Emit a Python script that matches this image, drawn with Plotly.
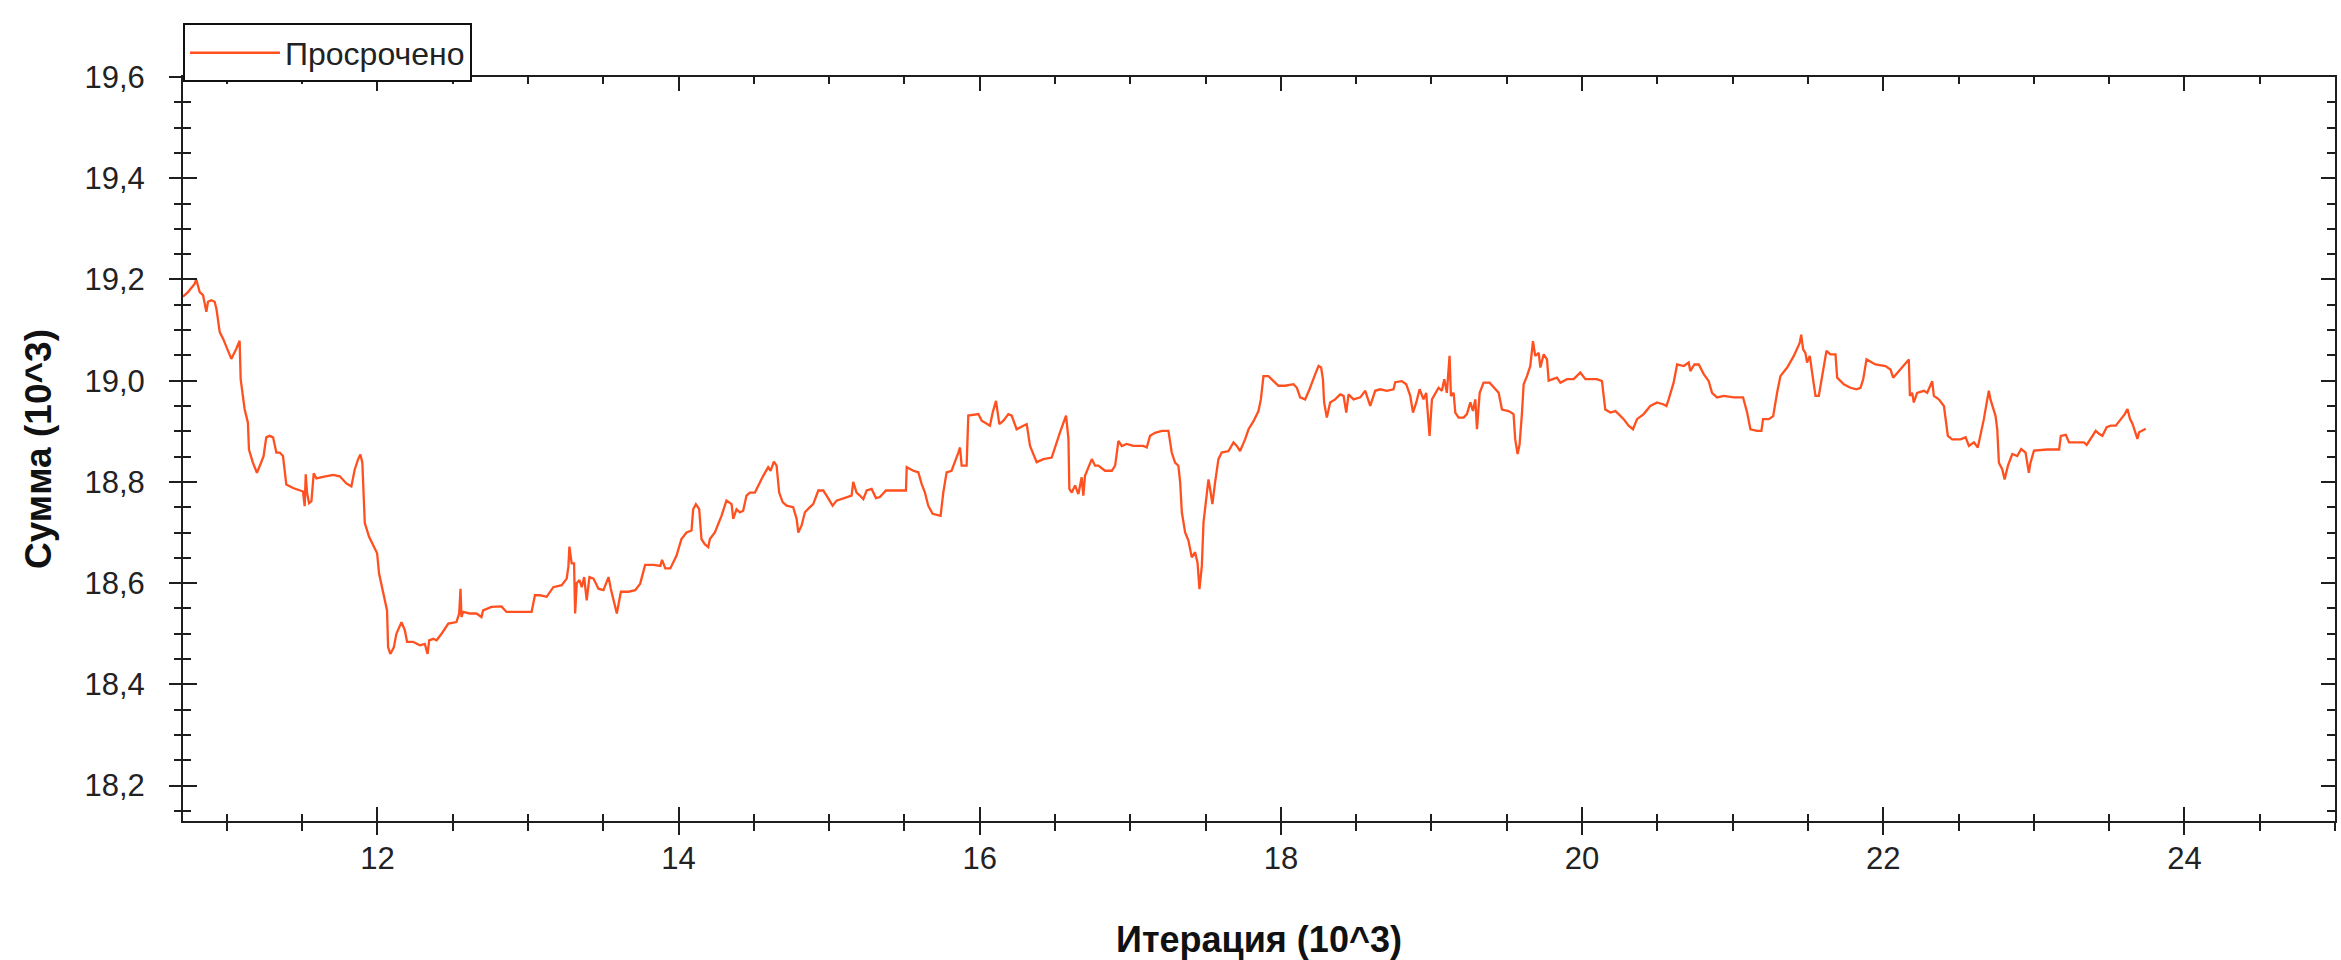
import plotly.graph_objects as go

# Iteration (10^3) and amount (10^3)
iter_k = [
    10.709, 10.742, 10.786, 10.797, 10.820, 10.842, 10.864, 10.875, 10.897, 10.919,
    10.931, 10.953, 10.975, 11.030, 11.063, 11.085, 11.092, 11.118, 11.140, 11.147,
    11.173, 11.200, 11.218, 11.244, 11.262, 11.284, 11.307, 11.329, 11.351, 11.373,
    11.395, 11.440, 11.506, 11.517, 11.524, 11.533, 11.546, 11.562, 11.577, 11.595,
    11.639, 11.706, 11.750, 11.794, 11.827, 11.849, 11.871, 11.887, 11.900, 11.916,
    11.944, 11.971, 11.998, 12.011, 12.038, 12.064, 12.071, 12.086, 12.109, 12.126,
    12.160, 12.182, 12.197, 12.237, 12.282, 12.315, 12.333, 12.344, 12.371, 12.393,
    12.426, 12.471, 12.525, 12.543, 12.552, 12.558, 12.569, 12.613, 12.658, 12.691,
    12.702, 12.757, 12.824, 12.857, 12.946, 13.024, 13.046, 13.080, 13.124, 13.168,
    13.224, 13.257, 13.268, 13.275, 13.290, 13.306, 13.313, 13.324, 13.342, 13.357,
    13.373, 13.390, 13.408, 13.435, 13.468, 13.501, 13.535, 13.550, 13.590, 13.617,
    13.668, 13.712, 13.745, 13.778, 13.834, 13.879, 13.890, 13.912, 13.945,
    13.986, 14.019, 14.053, 14.086, 14.097, 14.115, 14.137, 14.152, 14.174, 14.197,
    14.208, 14.241, 14.285, 14.318, 14.352, 14.363, 14.385, 14.407, 14.429, 14.451,
    14.473, 14.507, 14.529, 14.562, 14.595, 14.611, 14.633, 14.651, 14.668, 14.691,
    14.717, 14.761, 14.784, 14.795, 14.817, 14.839, 14.872, 14.894, 14.928, 14.961,
    14.983, 15.023, 15.049, 15.083, 15.116, 15.149, 15.160, 15.182, 15.204, 15.227,
    15.249, 15.282, 15.311, 15.337, 15.377, 15.510, 15.515, 15.559, 15.592, 15.614,
    15.636, 15.658, 15.687, 15.740, 15.758, 15.780, 15.813, 15.836, 15.858, 15.869,
    15.880, 15.913, 15.924, 15.991, 16.013, 16.068, 16.086, 16.108, 16.130, 16.157,
    16.190, 16.212, 16.245, 16.290, 16.312, 16.334, 16.378, 16.423, 16.478, 16.533,
    16.573, 16.589, 16.595, 16.611, 16.633, 16.655, 16.677, 16.688, 16.699, 16.744,
    16.766, 16.788, 16.832, 16.877, 16.899, 16.921, 16.943, 16.976, 17.020, 17.087,
    17.109, 17.131, 17.164, 17.209, 17.253, 17.275, 17.297, 17.319, 17.331, 17.342,
    17.364, 17.386, 17.408, 17.430, 17.446, 17.459, 17.475, 17.486, 17.508, 17.519,
    17.530, 17.545, 17.563, 17.585, 17.607, 17.652, 17.685, 17.707, 17.729, 17.762,
    17.785, 17.818, 17.851, 17.867, 17.884, 17.917, 17.951, 17.984, 18.028, 18.084,
    18.106, 18.128, 18.161, 18.190, 18.228, 18.250, 18.267, 18.279, 18.287, 18.305,
    18.327, 18.360, 18.394, 18.416, 18.434, 18.449, 18.482, 18.527, 18.560, 18.593,
    18.626, 18.659, 18.704, 18.748, 18.759, 18.803, 18.832, 18.859, 18.877, 18.899,
    18.921, 18.947, 18.965, 18.987, 19.003, 19.025, 19.047, 19.069, 19.085, 19.102,
    19.120, 19.129, 19.147, 19.158, 19.180, 19.213, 19.235, 19.258, 19.275, 19.291,
    19.302, 19.320, 19.346, 19.386, 19.413, 19.446, 19.468, 19.512, 19.545, 19.556,
    19.572, 19.585, 19.601, 19.612, 19.634, 19.656, 19.674, 19.689, 19.712, 19.723,
    19.745, 19.767, 19.778, 19.833, 19.856, 19.900, 19.944, 19.988, 20.022, 20.099,
    20.132, 20.154, 20.188, 20.221, 20.243, 20.276, 20.309, 20.338, 20.365, 20.409,
    20.453, 20.498, 20.542, 20.560, 20.575, 20.608, 20.631, 20.675, 20.708, 20.719,
    20.746, 20.775, 20.808, 20.841, 20.863, 20.896, 20.941, 21.007, 21.069, 21.096,
    21.118, 21.162, 21.191, 21.202, 21.240, 21.269, 21.295, 21.317, 21.362, 21.406,
    21.446, 21.455, 21.468, 21.483, 21.494, 21.512, 21.534, 21.550, 21.572, 21.594,
    21.623, 21.649, 21.683, 21.694, 21.738, 21.782, 21.822, 21.849, 21.867, 21.889,
    21.948, 22.015, 22.048, 22.066, 22.103, 22.141, 22.170, 22.177, 22.192, 22.203,
    22.225, 22.270, 22.292, 22.325, 22.336, 22.369, 22.403, 22.429, 22.458, 22.513,
    22.547, 22.569, 22.602, 22.628, 22.668, 22.701, 22.712, 22.746, 22.757, 22.768,
    22.790, 22.806, 22.828, 22.857, 22.890, 22.916, 22.945, 22.967, 22.978,
    23.001, 23.090, 23.168, 23.179, 23.212, 23.234, 23.289, 23.333, 23.351, 23.378,
    23.411, 23.433, 23.455, 23.484, 23.511, 23.544, 23.577, 23.604, 23.622, 23.639,
    23.655, 23.671, 23.688, 23.699, 23.715, 23.743,
]

summa_k = [
    19.166, 19.175, 19.191, 19.200, 19.175, 19.169, 19.136, 19.156, 19.159, 19.156,
    19.142, 19.096, 19.083, 19.043, 19.063, 19.079, 19.003, 18.944, 18.917, 18.864,
    18.838, 18.818, 18.831, 18.851, 18.888, 18.891, 18.888, 18.858, 18.858, 18.851,
    18.795, 18.788, 18.781, 18.752, 18.815, 18.778, 18.758, 18.762, 18.817, 18.807,
    18.810, 18.814, 18.811, 18.797, 18.791, 18.824, 18.844, 18.854, 18.838, 18.719,
    18.692, 18.675, 18.659, 18.619, 18.579, 18.546, 18.473, 18.460, 18.473, 18.500,
    18.523, 18.507, 18.484, 18.484, 18.477, 18.480, 18.460, 18.487, 18.490, 18.487,
    18.500, 18.520, 18.523, 18.540, 18.589, 18.533, 18.543, 18.540, 18.540, 18.533,
    18.546, 18.553, 18.554, 18.543, 18.543, 18.543, 18.576, 18.576, 18.573, 18.592,
    18.596, 18.609, 18.632, 18.672, 18.639, 18.639, 18.540, 18.600, 18.606, 18.592,
    18.612, 18.566, 18.612, 18.609, 18.589, 18.586, 18.612, 18.589, 18.540, 18.583,
    18.583, 18.586, 18.599, 18.636, 18.636, 18.634, 18.646, 18.629, 18.629,
    18.654, 18.687, 18.700, 18.704, 18.746, 18.756, 18.746, 18.687, 18.677, 18.671,
    18.687, 18.700, 18.733, 18.763, 18.756, 18.727, 18.746, 18.740, 18.743, 18.773,
    18.779, 18.779, 18.793, 18.812, 18.829, 18.822, 18.840, 18.832, 18.779, 18.760,
    18.753, 18.750, 18.727, 18.700, 18.714, 18.740, 18.750, 18.756, 18.783, 18.783,
    18.773, 18.753, 18.763, 18.766, 18.770, 18.773, 18.800, 18.779, 18.773, 18.766,
    18.783, 18.786, 18.768, 18.770, 18.783, 18.783, 18.829, 18.822, 18.819, 18.796,
    18.779, 18.753, 18.737, 18.733, 18.779, 18.819, 18.822, 18.839, 18.858, 18.868,
    18.832, 18.832, 18.931, 18.934, 18.921, 18.911, 18.937, 18.960, 18.914, 18.921,
    18.934, 18.931, 18.904, 18.911, 18.914, 18.871, 18.839, 18.845, 18.848, 18.898,
    18.931, 18.885, 18.786, 18.779, 18.793, 18.776, 18.809, 18.773, 18.812, 18.845,
    18.832, 18.832, 18.822, 18.822, 18.832, 18.881, 18.871, 18.875, 18.871, 18.871,
    18.868, 18.891, 18.897, 18.901, 18.901, 18.858, 18.838, 18.832, 18.799, 18.740,
    18.700, 18.684, 18.651, 18.661, 18.641, 18.588, 18.634, 18.720, 18.779, 18.805,
    18.786, 18.756, 18.799, 18.845, 18.858, 18.861, 18.878, 18.871, 18.861, 18.884,
    18.904, 18.920, 18.940, 18.963, 19.009, 19.009, 18.999, 18.990, 18.990, 18.993,
    18.986, 18.967, 18.963, 18.983, 19.013, 19.029, 19.026, 19.003, 18.957, 18.927,
    18.957, 18.963, 18.973, 18.970, 18.937, 18.973, 18.963, 18.967, 18.980, 18.950,
    18.980, 18.983, 18.980, 18.983, 18.997, 18.999, 18.993, 18.970, 18.937, 18.957,
    18.983, 18.963, 18.976, 18.891, 18.963, 18.976, 18.986, 18.980, 19.003, 18.976,
    19.049, 18.970, 18.976, 18.937, 18.927, 18.927, 18.934, 18.957, 18.940, 18.963,
    18.904, 18.976, 18.996, 18.996, 18.986, 18.976, 18.943, 18.940, 18.934, 18.884,
    18.855, 18.874, 18.937, 18.993, 19.009, 19.029, 19.078, 19.049, 19.055, 19.026,
    19.052, 19.042, 19.000, 19.006, 18.996, 19.003, 19.003, 19.016, 19.003, 19.003,
    18.999, 18.943, 18.937, 18.940, 18.934, 18.924, 18.911, 18.904, 18.924, 18.934,
    18.950, 18.957, 18.953, 18.950, 18.963, 18.996, 19.032, 19.029, 19.036, 19.019,
    19.032, 19.032, 19.013, 18.999, 18.976, 18.967, 18.970, 18.967, 18.967, 18.937,
    18.904, 18.901, 18.901, 18.924, 18.924, 18.930, 18.976, 19.009, 19.026, 19.049,
    19.075, 19.091, 19.062, 19.055, 19.036, 19.049, 19.003, 18.970, 18.970, 19.009,
    19.059, 19.052, 19.052, 19.006, 18.993, 18.986, 18.983, 18.986, 19.003, 19.042,
    19.032, 19.029, 19.022, 19.006, 19.019, 19.032, 19.042, 18.970, 18.976, 18.957,
    18.976, 18.980, 18.976, 18.999, 18.970, 18.963, 18.950, 18.891, 18.884, 18.884,
    18.888, 18.871, 18.878, 18.868, 18.924, 18.980, 18.963, 18.930, 18.904, 18.838,
    18.825, 18.805, 18.832, 18.855, 18.851, 18.865, 18.858, 18.818, 18.838,
    18.862, 18.864, 18.864, 18.891, 18.893, 18.878, 18.878, 18.878, 18.873, 18.885,
    18.901, 18.895, 18.891, 18.908, 18.911, 18.911, 18.924, 18.934, 18.944, 18.924,
    18.915, 18.898, 18.885, 18.898, 18.901, 18.905,
]

series_name = "Просрочено"
x_title = "Итерация (10^3)"
y_title = "Сумма (10^3)"
x_range = [10.709, 25.0]
y_range = [18.13, 19.6]

FONT = "Liberation Sans, Arial, sans-serif"
AX = "#1e1e1e"

fig = go.Figure()
fig.add_trace(go.Scatter(
    x=iter_k, y=summa_k, mode="lines", name=series_name,
    line=dict(color="#FF5020", width=2.3),
))
# empty trace carrying the overlay axes (inner half of the crossing ticks)
fig.add_trace(go.Scatter(x=[], y=[], xaxis="x2", yaxis="y2",
                         showlegend=False, hoverinfo="skip"))

common = dict(showgrid=False, zeroline=False, showline=True, linecolor=AX,
              linewidth=2, tickcolor=AX, tickwidth=2)

fig.update_layout(
    width=2341, height=960,
    margin=dict(l=183, r=4, t=77, b=139),
    paper_bgcolor="white", plot_bgcolor="white",
    separators=", ",
    font=dict(family=FONT, size=31, color="#222222"),
    showlegend=True,
    legend=dict(
        x=0.0, y=1.072, xanchor="left", yanchor="top",
        bordercolor="#111111", borderwidth=2, bgcolor="white",
        font=dict(family=FONT, size=32, color="#222222"),
        itemwidth=90, tracegroupgap=0,
    ),
    xaxis=dict(
        range=x_range, tickmode="linear", tick0=0, dtick=2,
        ticks="outside", ticklen=12, ticklabelstandoff=-3,
        minor=dict(dtick=0.5, tick0=0, ticks="outside", ticklen=8,
                   tickwidth=2, tickcolor=AX, showgrid=False),
        title=dict(text="<b>" + x_title + "</b>", standoff=52,
                   font=dict(family=FONT, size=36, color="#111111")),
        **common,
    ),
    yaxis=dict(
        range=y_range, tickmode="linear", tick0=0, dtick=0.2, tickformat=".1f",
        ticks="outside", ticklen=12, ticklabelstandoff=18,
        minor=dict(dtick=0.05, tick0=0, ticks="outside", ticklen=7,
                   tickwidth=2, tickcolor=AX, showgrid=False),
        title=dict(text="<b>" + y_title + "</b>", standoff=22,
                   font=dict(family=FONT, size=37, color="#111111")),
        **common,
    ),
    xaxis2=dict(
        overlaying="x", matches="x", anchor="y", side="bottom",
        range=x_range, tickmode="linear", tick0=0, dtick=2,
        ticks="inside", ticklen=14, showticklabels=False, mirror="allticks",
        minor=dict(dtick=0.5, tick0=0, ticks="inside", ticklen=7,
                   tickwidth=2, tickcolor=AX, showgrid=False),
        **common,
    ),
    yaxis2=dict(
        overlaying="y", matches="y", anchor="x", side="left",
        range=y_range, tickmode="linear", tick0=0, dtick=0.2,
        ticks="inside", ticklen=14, showticklabels=False, mirror="allticks",
        minor=dict(dtick=0.05, tick0=0, ticks="inside", ticklen=8,
                   tickwidth=2, tickcolor=AX, showgrid=False),
        **common,
    ),
)

fig.write_html("out.html", config={"displayModeBar": False},
               post_script="document.body.style.margin='0';")
